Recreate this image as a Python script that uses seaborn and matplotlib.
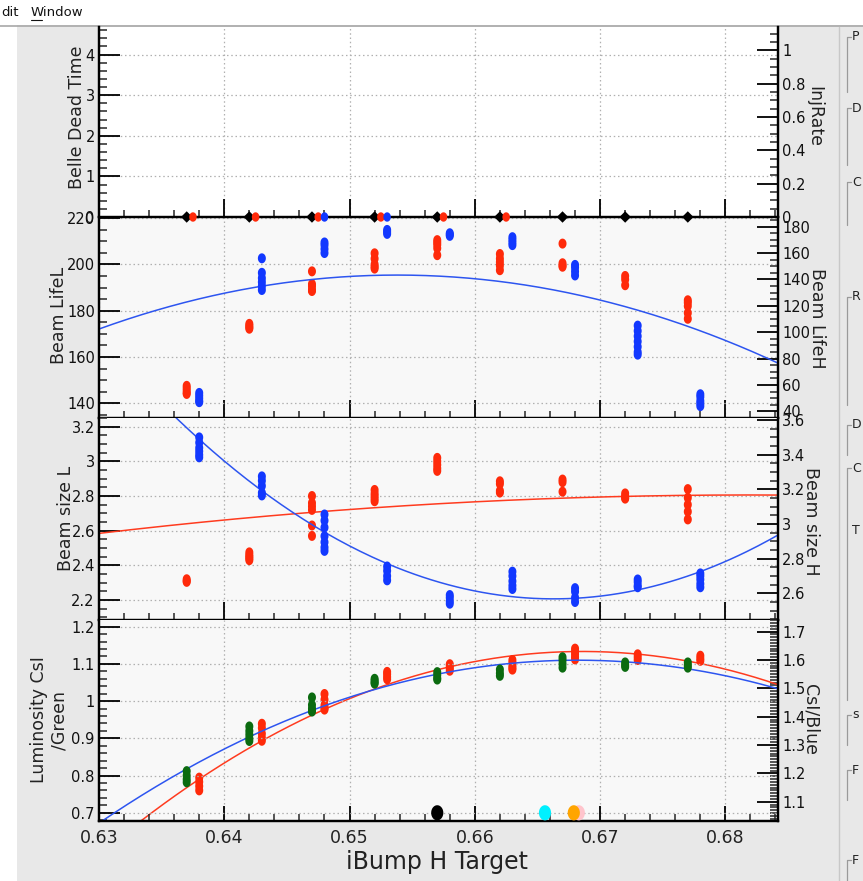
import numpy as np
import pandas as pd
import matplotlib
matplotlib.use("Agg")
import matplotlib.pyplot as plt
import seaborn as sns
from matplotlib.ticker import MultipleLocator, FuncFormatter
from matplotlib.patches import Rectangle
from matplotlib.lines import Line2D

# ---------------- scan data ----------------
# panel 1: dead time / injection rate (all zero during the scan)
dead_x = [0.637, 0.642, 0.647, 0.652, 0.657, 0.662, 0.667, 0.672, 0.677]
dead_time = [0.0, 0.0, 0.0, 0.0, 0.0, 0.0, 0.0, 0.0, 0.0]
inj_l_x = [0.6375, 0.6425, 0.6475, 0.6525, 0.6575, 0.6625]
inj_l = [0.0, 0.0, 0.0, 0.0, 0.0, 0.0]
inj_h_x = [0.648, 0.653]
inj_h = [0.0, 0.0]

# x of the LER (red) and HER (blue) readings at each scan step
ler_x = [0.637, 0.642, 0.647, 0.652, 0.657, 0.662, 0.667, 0.672, 0.677]
her_x = [0.638, 0.643, 0.648, 0.653, 0.658, 0.663, 0.668, 0.673, 0.678]

# panel 2: beam lifetimes
life_l = [[147.5, 146.5, 145.5, 144.5, 144.0],
          [174.3, 173.5, 172.8, 172.2],
          [197.0, 191.5, 190.5, 189.0, 188.5],
          [204.8, 202.5, 200.0, 199.0, 198.2],
          [210.5, 209.5, 208.5, 207.0, 204.0],
          [204.5, 202.5, 201.0, 199.5, 197.5],
          [209.0, 200.5, 199.5, 199.0],
          [195.0, 193.5, 191.0],
          [184.5, 183.5, 182.0, 179.0, 176.5]]
life_h = [[54.0, 52.0, 50.0, 48.0, 47.0],
          [156.0, 145.0, 141.0, 138.0, 135.0, 132.0],
          [168.0, 166.0, 163.0, 160.0],
          [177.5, 176.0, 174.5],
          [175.0, 174.0, 173.0],
          [172.0, 170.0, 168.0, 166.0],
          [151.0, 149.0, 146.0, 143.0],
          [105.0, 101.0, 97.0, 93.0, 89.0, 85.0, 83.0],
          [53.0, 51.0, 48.0, 46.0, 44.0]]

# panel 3: beam sizes
size_l = [[2.32, 2.31, 2.305],
          [2.475, 2.46, 2.45, 2.44, 2.43],
          [2.80, 2.76, 2.74, 2.72, 2.63, 2.57],
          [2.835, 2.815, 2.80, 2.785, 2.77],
          [3.02, 3.00, 2.98, 2.96, 2.945],
          [2.885, 2.87, 2.83, 2.82],
          [2.895, 2.88, 2.825],
          [2.815, 2.80, 2.79, 2.785],
          [2.84, 2.79, 2.75, 2.71, 2.665]]
size_h = [[3.50, 3.47, 3.44, 3.42, 3.40, 3.385],
          [3.275, 3.25, 3.22, 3.18, 3.165],
          [3.055, 3.02, 2.98, 2.93, 2.895, 2.865, 2.845],
          [2.755, 2.73, 2.70, 2.675],
          [2.59, 2.575, 2.555, 2.54],
          [2.725, 2.70, 2.67, 2.645, 2.625],
          [2.63, 2.61, 2.575, 2.55],
          [2.68, 2.665, 2.645, 2.635],
          [2.715, 2.70, 2.68, 2.655, 2.635]]

# panel 4: luminosity monitors
lumi_green = [[0.812, 0.80, 0.79, 0.782],
              [0.932, 0.92, 0.91, 0.90, 0.893],
              [1.01, 0.99, 0.98, 0.975, 0.972],
              [1.06, 1.055, 1.05, 1.047],
              [1.078, 1.07, 1.062, 1.058],
              [1.085, 1.075, 1.068],
              [1.118, 1.11, 1.10, 1.09],
              [1.104, 1.097, 1.092],
              [1.104, 1.096, 1.09]]
lumi_blue = [[1.185, 1.17, 1.155, 1.14],
             [1.375, 1.36, 1.34, 1.325, 1.315],
             [1.48, 1.46, 1.44, 1.43, 1.425],
             [1.558, 1.55, 1.54, 1.532],
             [1.585, 1.578, 1.57, 1.562],
             [1.60, 1.59, 1.58, 1.572, 1.566],
             [1.64, 1.63, 1.62, 1.61, 1.602],
             [1.62, 1.61, 1.60],
             [1.615, 1.605, 1.597]]

# current / fitted optimum markers along the bottom of the luminosity pad
mark_x = [0.657, 0.6656, 0.6683, 0.6679]
mark_y = [0.70, 0.70, 0.70, 0.70]
mark_colors = ["#000000", "#00f0ff", "#ffc4cc", "#ffa500"]

# parabola fits: (vertex x, vertex y, curvature)
life_h_fit = [0.6538, 143.3, -72170.0]
size_l_fit = [0.6819, 2.806, -82.2]
size_h_fit = [0.6663, 2.568, 1150.0]
lumi_green_fit = [0.6682, 1.110, -300.0]
lumi_blue_fit = [0.6686, 1.630, -481.0]

XLIM = (0.63, 0.6842)

RED = "#ff2a0a"
BLUE = "#1238ff"
GREEN = "#0b6b10"
LRED = "#ff3b1f"
LBLUE = "#2d55f0"

W, H = 863, 881


def columns(xs, groups):
    rows = [(x, v) for x, g in zip(xs, groups) for v in g]
    return pd.DataFrame(rows, columns=["x", "y"])


def parabola(p):
    xs = np.linspace(XLIM[0], XLIM[1], 240)
    return pd.DataFrame({"x": xs, "y": p[1] + p[2] * (xs - p[0]) ** 2})


t = np.linspace(0, 2 * np.pi, 28)
OVAL = list(zip(0.8 * np.cos(t), np.sin(t)))

sns.set_theme(style="white")
plt.rcParams["font.family"] = ["DejaVu Sans"]
plt.rcParams["axes.unicode_minus"] = False

fig = plt.figure(figsize=(W / 100, H / 100), dpi=100)
fig.patch.set_facecolor("#e8e8e8")


def fx(px):
    return px / W


def fy(py):
    return 1 - py / H


# window chrome
fig.add_artist(Rectangle((0, fy(25)), 1, 25 / H, transform=fig.transFigure,
                         facecolor="white", edgecolor="none", zorder=-5))
fig.add_artist(Rectangle((0, 0), fx(17), fy(25), transform=fig.transFigure,
                         facecolor="white", edgecolor="none", zorder=-5))
fig.add_artist(Line2D([0, 1], [fy(25.5), fy(25.5)], transform=fig.transFigure,
                      color="#a8a8a8", lw=1.2))
fig.text(fx(1), fy(12), "dit", fontsize=9.5, va="center", ha="left", color="#111")
fig.text(fx(31), fy(12), "Window", fontsize=9.5, va="center", ha="left", color="#111")
fig.add_artist(Line2D([fx(31), fx(42)], [fy(19.5), fy(19.5)], transform=fig.transFigure,
                      color="#111", lw=0.8))

# side panel group boxes
fig.add_artist(Line2D([fx(839), fx(839)], [fy(27), 0], transform=fig.transFigure,
                      color="#c8c8c8", lw=1))
for ytop, ybot, letter in [(37, 92, "P"), (108, 165, "D"), (182, 225, "C"),
                           (297, 405, "R"), (425, 455, "D"), (468, 700, "C"),
                           (715, 745, "s"), (770, 800, "F"), (860, 881, "F")]:
    fig.add_artist(Line2D([fx(847), fx(847), fx(851)], [fy(ybot), fy(ytop), fy(ytop)],
                          transform=fig.transFigure, color="#9a9a9a", lw=0.9))
    fig.text(fx(852), fy(ytop), letter, fontsize=9, va="center", ha="left", color="#222")
fig.text(fx(852), fy(530), "T", fontsize=9, va="center", ha="left", color="#222")

left = fx(99)
width = (778 - 99) / W
pads = [(27, 217), (217, 418), (418, 620), (620, 821)]

fmt = FuncFormatter(lambda v, _: f"{round(v, 6):g}")


def make_pad(top, bot, face):
    ax = fig.add_axes([left, fy(bot), width, (bot - top) / H])
    ax.set_facecolor(face)
    axr = ax.twinx()
    for a in (ax, axr):
        a.spines["top"].set_visible(False)
        for s in ("left", "right", "bottom"):
            a.spines[s].set_linewidth(1.6)
            a.spines[s].set_color("black")
    ax.set_xlim(*XLIM)
    ax.xaxis.set_major_locator(MultipleLocator(0.01))
    ax.xaxis.set_minor_locator(MultipleLocator(0.002))
    ax.xaxis.set_major_formatter(fmt)
    ax.tick_params(axis="x", which="major", direction="in", length=13, width=1.3,
                   top=False, bottom=True, labelbottom=False, labelsize=12.5,
                   pad=6, colors="black", labelcolor="#222")
    ax.tick_params(axis="x", which="minor", direction="in", length=5, width=1.1,
                   top=False, bottom=True)
    ax.tick_params(axis="y", which="major", direction="in", length=15, width=1.3,
                   labelsize=10.5, pad=3, colors="black", labelcolor="#111")
    ax.tick_params(axis="y", which="minor", direction="in", length=6, width=1.1)
    axr.tick_params(axis="y", which="major", direction="in", length=15, width=1.3,
                    labelsize=10.5, pad=3, colors="black", labelcolor="#111")
    axr.tick_params(axis="y", which="minor", direction="in", length=6, width=1.1)
    ax.yaxis.set_major_formatter(fmt)
    axr.yaxis.set_major_formatter(fmt)
    ax.grid(True, which="major", color="#b0b0b0", linestyle=(0, (1.2, 2.2)), linewidth=0.9)
    ax.set_axisbelow(True)
    ax.set_xlabel("")
    return ax, axr


def set_y(a, lim, major, minor):
    a.set_ylim(*lim)
    a.yaxis.set_major_locator(MultipleLocator(major))
    a.yaxis.set_minor_locator(MultipleLocator(minor))


def dots(a, df, color, size=52, marker=OVAL, z=3):
    sns.scatterplot(data=df, x="x", y="y", ax=a, color=color, s=size, marker=marker,
                    edgecolor="none", linewidth=0, legend=False, zorder=z, clip_on=False)
    a.set_xlabel("")
    a.set_ylabel("")


def curve(a, p, color):
    sns.lineplot(data=parabola(p), x="x", y="y", ax=a, color=color, linewidth=1.1,
                 legend=False, zorder=2, sort=False)
    a.set_xlabel("")
    a.set_ylabel("")


# ---- pad 1: dead time / injection rate ----
ax1, ax1r = make_pad(*pads[0], "#ffffff")
set_y(ax1, (0, 4.68), 1, 0.2)
set_y(ax1r, (0, 1.14), 0.2, 0.05)
dots(ax1, pd.DataFrame({"x": dead_x, "y": dead_time}), "black", size=34, marker="D", z=4)
dots(ax1r, pd.DataFrame({"x": inj_l_x, "y": inj_l}), RED, size=46)
dots(ax1r, pd.DataFrame({"x": inj_h_x, "y": inj_h}), BLUE, size=46)

# ---- pad 2: beam lifetimes ----
ax2, ax2r = make_pad(*pads[1], "#f8f8f8")
set_y(ax2, (133.6, 220.5), 20, 5)
set_y(ax2r, (35.0, 187.3), 20, 5)
dots(ax2, columns(ler_x, life_l), RED)
dots(ax2r, columns(her_x, life_h), BLUE)
curve(ax2r, life_h_fit, LBLUE)

# zero-level markers of pad 1 sit on its bottom edge and overlap pad 2
ax1.set_zorder(5)
ax1r.set_zorder(6)

# ---- pad 3: beam sizes ----
ax3, ax3r = make_pad(*pads[2], "#f8f8f8")
set_y(ax3, (2.085, 3.25), 0.2, 0.05)
set_y(ax3r, (2.446, 3.612), 0.2, 0.05)
dots(ax3, columns(ler_x, size_l), RED)
dots(ax3r, columns(her_x, size_h), BLUE)
curve(ax3, size_l_fit, LRED)
curve(ax3r, size_h_fit, LBLUE)

# ---- pad 4: luminosity ----
ax4, ax4r = make_pad(*pads[3], "#f8f8f8")
set_y(ax4, (0.678, 1.218), 0.1, 0.02)
set_y(ax4r, (1.032, 1.741), 0.1, 0.01)
dots(ax4, columns(ler_x, lumi_green), GREEN)
dots(ax4r, columns(her_x, lumi_blue), RED)
curve(ax4, lumi_green_fit, LBLUE)
curve(ax4r, lumi_blue_fit, LRED)
for mx, my, mc in zip(mark_x, mark_y, mark_colors):
    dots(ax4, pd.DataFrame({"x": [mx], "y": [my]}), mc, size=120, z=6)
ax4.tick_params(axis="x", which="major", labelbottom=True, length=11)
# markers of the left axes stay on top of the right-axis curves
ax4r.set_facecolor("#f8f8f8")
ax4r.patch.set_visible(True)
ax4.patch.set_visible(False)
ax4r.set_zorder(0)
ax4.set_zorder(1)

for a in (ax1, ax2, ax3, ax4):
    a.set_xlim(*XLIM)

# ---- axis titles ----
title_kw = dict(fontsize=12.5, color="#222", ha="center", va="center")
fig.text(fx(77), fy(117), "Belle Dead Time", rotation=90, **title_kw)
fig.text(fx(814), fy(117), "InjRate", rotation=-90, **title_kw)
fig.text(fx(59), fy(315), "Beam LifeL", rotation=90, **title_kw)
fig.text(fx(817), fy(318), "Beam LifeH", rotation=-90, **title_kw)
fig.text(fx(66), fy(518), "Beam size L", rotation=90, **title_kw)
fig.text(fx(811), fy(521), "Beam size H", rotation=-90, **title_kw)
fig.text(fx(49), fy(720), "Luminosity CsI\n/Green", rotation=90, linespacing=1.15, **title_kw)
fig.text(fx(810), fy(719), "CsI/Blue", rotation=-90, **title_kw)
fig.text(fx(437), fy(862), "iBump H Target", fontsize=17, color="#222",
         ha="center", va="center")

fig.savefig("out.png", dpi=100, facecolor=fig.get_facecolor())
